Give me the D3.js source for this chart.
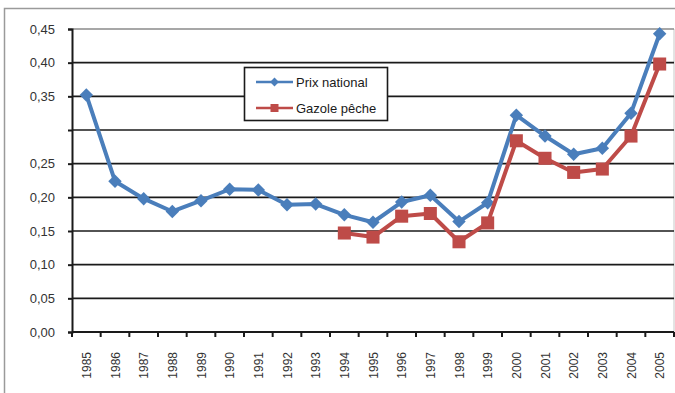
<!DOCTYPE html>
<html>
<head>
<meta charset="utf-8">
<script src="https://cdn.jsdelivr.net/npm/d3@7"></script>
<style>
  html, body { margin: 0; padding: 0; background: #fff; }
  svg { display: block; font-family: "Liberation Sans", Arial, Helvetica, sans-serif; }
</style>
</head>
<body>
<svg id="chart" width="675" height="393"></svg>
<script>
// Years on the x axis
const years = ["1985","1986","1987","1988","1989","1990","1991","1992","1993","1994",
               "1995","1996","1997","1998","1999","2000","2001","2002","2003","2004","2005"];

// Prix national (€/l)
const prixNational = [0.352, 0.224, 0.198, 0.179, 0.195, 0.212, 0.211, 0.189, 0.190, 0.174,
                      0.163, 0.193, 0.203, 0.164, 0.192, 0.322, 0.291, 0.264, 0.273, 0.325, 0.443];

// Gazole pêche, available from 1994 on
const gazolePeche = [null, null, null, null, null, null, null, null, null, 0.147,
                     0.141, 0.172, 0.176, 0.134, 0.162, 0.284, 0.258, 0.237, 0.242, 0.291, 0.398];

// Y tick values and their labels (0,30 carries no label)
const yTicks = [0, 0.05, 0.10, 0.15, 0.20, 0.25, 0.30, 0.35, 0.40, 0.45];
const yTickLabels = ["0,00", "0,05", "0,10", "0,15", "0,20", "0,25", "", "0,35", "0,40", "0,45"];

const seriesNames = ["Prix national", "Gazole pêche"];
const seriesColors = ["#4a7ebb", "#be4b48"];

const svg = d3.select("#chart");
const plotLeft = 72, plotRight = 674, plotTop = 29, plotBottom = 332;

// Outer frame
svg.append("path")
  .attr("d", `M4.5,393 V8.5 H675`)
  .attr("fill", "none").attr("stroke", "#9a9a9a").attr("stroke-width", 1.5);

const x = d3.scaleBand().domain(years).range([plotLeft, plotRight]);
const y = d3.scaleLinear().domain([0, 0.45]).range([plotBottom, plotTop]);

// Plot area right border
svg.append("line")
  .attr("x1", plotRight).attr("x2", plotRight).attr("y1", plotTop).attr("y2", plotBottom)
  .attr("stroke", "#c8c8c8").attr("stroke-width", 1);

// Horizontal gridlines
svg.append("g").selectAll("line").data(yTicks.filter(d => d > 0)).join("line")
  .attr("x1", plotLeft).attr("x2", plotRight)
  .attr("y1", d => y(d)).attr("y2", d => y(d))
  .attr("stroke", d => d === 0.45 ? "#8a8a8a" : "#1a1a1a")
  .attr("stroke-width", 1.6);

// Y axis
const yAxis = svg.append("g")
  .attr("transform", `translate(${plotLeft},0)`)
  .call(d3.axisLeft(y).tickValues(yTicks)
    .tickFormat((d, i) => yTickLabels[i]).tickSize(4).tickPadding(13));
yAxis.select(".domain").attr("stroke", "#1a1a1a").attr("stroke-width", 2);
yAxis.selectAll(".tick line").attr("stroke", "#1a1a1a").attr("stroke-width", 2);
yAxis.selectAll(".tick text").attr("fill", "#333").style("font-size", "13px");

// X axis with ticks between categories
const xAxis = svg.append("g").attr("transform", `translate(0,${plotBottom})`);
xAxis.append("line")
  .attr("x1", plotLeft).attr("x2", plotRight)
  .attr("stroke", "#1a1a1a").attr("stroke-width", 2);
const boundaries = years.map(d => x(d)).concat([x(years[years.length - 1]) + x.bandwidth()]);
xAxis.selectAll("line.tk").data(boundaries).join("line")
  .attr("class", "tk")
  .attr("x1", d => d).attr("x2", d => d)
  .attr("y1", 0).attr("y2", 5)
  .attr("stroke", "#1a1a1a").attr("stroke-width", 2);
xAxis.selectAll("text").data(years).join("text")
  .attr("transform", d => `translate(${x(d) + x.bandwidth() / 2 + 4.5},20) rotate(-90)`)
  .attr("text-anchor", "end")
  .attr("fill", "#333")
  .style("font-size", "12px")
  .text(d => d);

// Series lines and markers
const data = [prixNational, gazolePeche];
const line = d3.line()
  .defined(d => d != null)
  .x((d, i) => x(years[i]) + x.bandwidth() / 2)
  .y(d => y(d));

const diamond = d3.symbol().type(d3.symbolDiamond2).size(115);
const square = d3.symbol().type(d3.symbolSquare).size(170);

data.forEach((vals, s) => {
  svg.append("path")
    .attr("d", line(vals))
    .attr("fill", "none")
    .attr("stroke", seriesColors[s])
    .attr("stroke-width", 4)
    .attr("stroke-linejoin", "round");
  svg.append("g").selectAll("path")
    .data(vals.map((v, i) => ({ v, i })).filter(d => d.v != null))
    .join("path")
    .attr("transform", d => `translate(${x(years[d.i]) + x.bandwidth() / 2},${y(d.v)})`)
    .attr("d", s === 0 ? diamond() : square())
    .attr("fill", seriesColors[s]);
});

// Legend
const lg = svg.append("g");
lg.append("rect")
  .attr("x", 244.5).attr("y", 67.5).attr("width", 143).attr("height", 53)
  .attr("fill", "#fff").attr("stroke", "#1a1a1a").attr("stroke-width", 1.6);
seriesNames.forEach((name, s) => {
  const ly = 82 + s * 26;
  lg.append("line")
    .attr("x1", 256).attr("x2", 293).attr("y1", ly).attr("y2", ly)
    .attr("stroke", seriesColors[s]).attr("stroke-width", 2.5);
  lg.append("path")
    .attr("transform", `translate(274.5,${ly})`)
    .attr("d", s === 0 ? d3.symbol().type(d3.symbolDiamond2).size(50)() : d3.symbol().type(d3.symbolSquare).size(64)())
    .attr("fill", seriesColors[s]);
  lg.append("text")
    .attr("x", 296).attr("y", ly + 4.5)
    .attr("fill", "#1a1a1a")
    .style("font-size", "13px")
    .text(name);
});
</script>
</body>
</html>
